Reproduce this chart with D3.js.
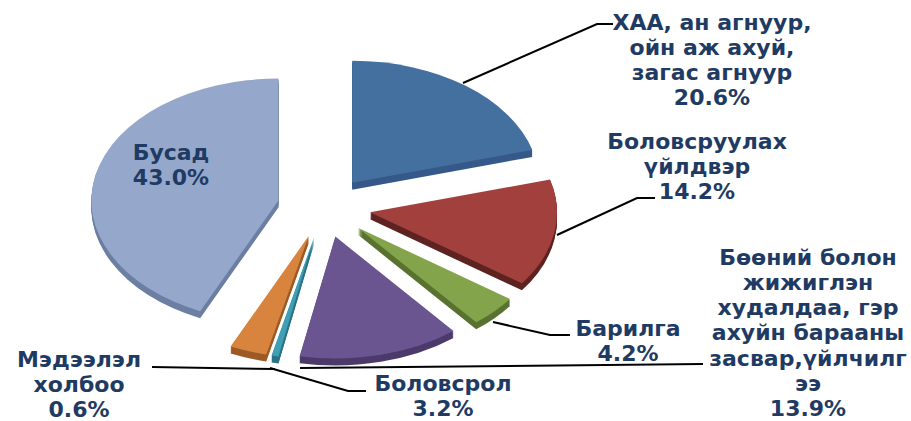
<!DOCTYPE html>
<html>
<head>
<meta charset="utf-8">
<script src="https://cdn.jsdelivr.net/npm/d3@7"></script>
<style>
  body { margin: 0; background: #fff; }
  svg text { font-family: "DejaVu Sans", Verdana, sans-serif; font-weight: bold; fill: #1f3b63; }
</style>
</head>
<body>
<svg width="911" height="421"></svg>
<script>
// сектор бүрийн нэр, хувь, өнгө
var categories = ["ХАА, ан агнуур, ойн аж ахуй, загас агнуур", "Боловсруулах үйлдвэр", "Барилга",
  "Бөөний болон жижиглэн худалдаа, гэр ахуйн барааны засвар,үйлчилгээ", "Мэдээлэл холбоо", "Боловсрол", "Бусад"];
var values = [20.6, 14.2, 4.2, 13.9, 0.6, 3.2, 43.0];
var labelLines = [
  ["ХАА, ан агнуур,", "ойн аж ахуй,", "загас агнуур", "20.6%"],
  ["Боловсруулах", "үйлдвэр", "14.2%"],
  ["Барилга", "4.2%"],
  ["Бөөний болон", "жижиглэн", "худалдаа, гэр", "ахуйн барааны", "засвар,үйлчилг", "ээ", "13.9%"],
  ["Мэдээлэл", "холбоо", "0.6%"],
  ["Боловсрол", "3.2%"],
  ["Бусад", "43.0%"]
];
var topColors = ["#44709f", "#a2403e", "#83a44b", "#6b5590", "#3e9fb5", "#d8843e", "#95a8cc"];
var sideColors = ["#36598a", "#5e2422", "#5a7230", "#4c3b6a", "#2b7384", "#9c5b26", "#6d7fa3"];

var svg = d3.select("svg"),
  cx = 324, cy = 207,
  radius = 187,
  tilt = 0.652,
  explode = 46.7,
  depth = 7,
  lineH = 25.2;

// label positions: [center x, first line y]
var labelPos = [[712, 22], [697, 141], [628, 328], [808, 257], [79, 359], [443, 383], [171, 152]];

var pie = d3.pie().sort(null).value(function(d){ return d; });
var arcs = pie(values);
var arc = d3.arc().innerRadius(0).outerRadius(radius);

function offset(d){
  var mid = (d.startAngle + d.endAngle) / 2;
  return [explode * Math.sin(mid), -explode * Math.cos(mid)];
}

var chart = svg.append("g").attr("transform", "translate(" + cx + "," + cy + ")");

//side (depth) of every slice first
for (var k = depth; k >= 1; k--) {
  chart.append("g")
    .attr("transform", "translate(0," + k + ") scale(1," + tilt + ")")
    .selectAll("path")
    .data(arcs).enter()
    .append("path")
    .attr("transform", function(d){ var o = offset(d); return "translate(" + o + ")"; })
    .attr("d", arc)
    .style("fill", function(d, i){ return sideColors[i]; });
}

var tops = chart.append("g").attr("transform", "scale(1," + tilt + ")");
tops.selectAll("path")
  .data(arcs).enter()
  .append("path")
  .attr("transform", function(d){ var o = offset(d); return "translate(" + o + ")"; })
  .attr("d", arc)
  .style("fill", function(d, i){ return topColors[i]; });

// leader lines
var leaders = [
  [[463, 83], [597, 24], [613, 24]],
  [[557, 235], [637, 198], [655, 198]],
  [[493, 322], [550, 335], [570, 335]],
  [[300, 368], [703, 364]],
  [[152, 367], [275, 369]],
  [[270, 368], [348, 391], [366, 391]]
];
var line = d3.line();
svg.append("g").selectAll("path")
  .data(leaders).enter()
  .append("path")
  .attr("d", line)
  .style("fill", "none")
  .style("stroke", "#000")
  .style("stroke-width", 2);

// labels
var lbl = svg.append("g").selectAll("text")
  .data(labelLines).enter()
  .append("text")
  .attr("text-anchor", "middle")
  .style("font-size", "22px")
  .attr("transform", function(d, i){ return "translate(" + labelPos[i][0] + "," + labelPos[i][1] + ")"; });

lbl.selectAll("tspan")
  .data(function(d){ return d; }).enter()
  .append("tspan")
  .attr("x", 0)
  .attr("y", function(d, j){ return j * lineH; })
  .attr("dy", "0.35em")
  .text(function(d){ return d; });
</script>
</body>
</html>
